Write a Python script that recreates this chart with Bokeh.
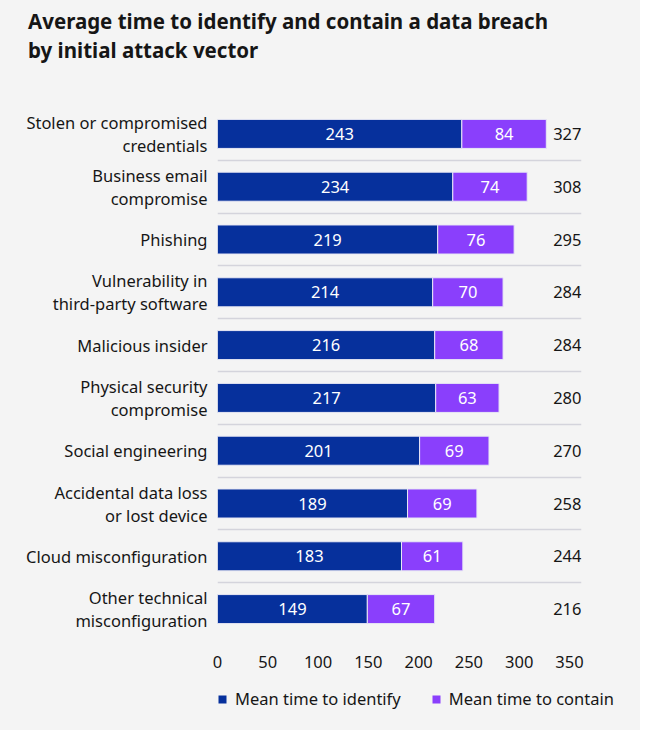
from bokeh.plotting import figure
from bokeh.layouts import column
from bokeh.models import Range1d, FixedTicker, Legend, LegendItem, ColumnDataSource, Div
from bokeh.core.properties import value
from bokeh.embed import file_html
from bokeh.resources import INLINE

categories = [
    "Stolen or compromised\ncredentials",
    "Business email\ncompromise",
    "Phishing",
    "Vulnerability in\nthird-party software",
    "Malicious insider",
    "Physical security\ncompromise",
    "Social engineering",
    "Accidental data loss\nor lost device",
    "Cloud misconfiguration",
    "Other technical\nmisconfiguration",
]
identify = [243, 234, 219, 214, 216, 217, 201, 189, 183, 149]
contain = [84, 74, 76, 70, 68, 63, 69, 69, 61, 67]
totals = [327, 308, 295, 284, 284, 280, 270, 258, 244, 216]
x_ticks = [0, 50, 100, 150, 200, 250, 300, 350]
series_names = ["Mean time to identify", "Mean time to contain"]
title_lines = ["Average time to identify and contain a data breach", "by initial attack vector"]

BLUE = "#06309c"
PURPLE = "#8a3ffc"
BG = "#f4f4f4"
INK = "#161616"
FONT = "Noto Sans"
FS = "16.5px"

n = len(categories)
XMAX = 362
idx = list(range(n))
src = ColumnDataSource(dict(
    y=idx,
    identify=identify,
    contain=contain,
    end=[a + b for a, b in zip(identify, contain)],
    mid_i=[a / 2 for a in identify],
    mid_c=[a + b / 2 for a, b in zip(identify, contain)],
    lab_i=[str(v) for v in identify],
    lab_c=[str(v) for v in contain],
    tot=[str(v) for v in totals],
    tot_x=[XMAX] * n,
))

# title block
title = Div(
    text=('<div style="font-family:\'Noto Sans\';font-weight:bold;font-size:20.5px;'
          'line-height:29px;color:%s;padding:7px 0 0 28px;margin:0;">%s</div>'
          % (INK, "<br>".join(title_lines))),
    width=640, height=107, margin=0,
    styles={"background-color": BG},
)

# main chart
p = figure(
    output_backend="svg", toolbar_location=None,
    frame_width=364, frame_height=528,
    min_border_left=217, min_border_right=59, min_border_top=0, min_border_bottom=45,
    x_range=Range1d(0, XMAX), y_range=Range1d(n - 0.5, -0.5),
    background_fill_color=BG, border_fill_color=BG, outline_line_color=None,
)
p.title.visible = False

p.hbar(y="y", left=0, right="identify", height=0.55, source=src,
       fill_color=BLUE, line_color="#e8e8f4", line_width=1)
p.hbar(y="y", left="identify", right="end", height=0.55, source=src,
       fill_color=PURPLE, line_color="#e8e8f4", line_width=1)

p.text(x="mid_i", y="y", text="lab_i", source=src, text_color="white",
       text_font=value(FONT), text_font_size=FS, text_align="center", text_baseline="middle")
p.text(x="mid_c", y="y", text="lab_c", source=src, text_color="white",
       text_font=value(FONT), text_font_size=FS, text_align="center", text_baseline="middle")
p.text(x="tot_x", y="y", text="tot", source=src, text_color=INK,
       text_font=value(FONT), text_font_size=FS, text_align="right", text_baseline="middle")

# separators between categories
p.xgrid.visible = False
p.ygrid.ticker = FixedTicker(ticks=[i - 0.5 for i in range(n + 1)])
p.ygrid.grid_line_color = "#d4d4dc"
p.ygrid.grid_line_width = 1.5

p.yaxis.ticker = FixedTicker(ticks=idx)
p.yaxis.major_label_overrides = {i: c for i, c in enumerate(categories)}
p.yaxis.axis_line_color = None
p.yaxis.major_tick_line_color = None
p.yaxis.minor_tick_line_color = None
p.yaxis.major_label_text_font = FONT
p.yaxis.major_label_text_font_size = FS
p.yaxis.major_label_text_color = INK
p.yaxis.major_label_text_line_height = 1.0
p.yaxis.major_label_standoff = 4

p.xaxis.ticker = FixedTicker(ticks=x_ticks)
p.xaxis.axis_line_color = None
p.xaxis.major_tick_line_color = None
p.xaxis.minor_tick_line_color = None
p.xaxis.major_label_text_font = FONT
p.xaxis.major_label_text_font_size = FS
p.xaxis.major_label_text_color = INK
p.xaxis.major_label_standoff = 14

# legend strip
lf = figure(output_backend="svg", toolbar_location=None,
            frame_width=640, frame_height=50,
            min_border_left=0, min_border_right=0, min_border_top=0, min_border_bottom=0,
            x_range=Range1d(0, 1), y_range=Range1d(0, 1),
            background_fill_color=BG, border_fill_color=BG, outline_line_color=None)
lf.axis.visible = False
lf.grid.visible = False
lf.title.visible = False
l1 = lf.hbar(y="y", left=0, right="identify", height=0.55, source=src,
             fill_color=BLUE, line_color=None, visible=False)
l2 = lf.hbar(y="y", left="identify", right="end", height=0.55, source=src,
             fill_color=PURPLE, line_color=None, visible=False)
legend = Legend(items=[LegendItem(label=series_names[0], renderers=[l1]),
                       LegendItem(label=series_names[1], renderers=[l2])],
                orientation="horizontal", location=(217, 20),
                glyph_width=10, glyph_height=10, label_standoff=8, spacing=30,
                padding=0, margin=0, border_line_color=None,
                background_fill_alpha=0, label_height=20,
                inactive_fill_alpha=0,
                label_text_font=FONT, label_text_font_size=FS, label_text_color=INK)
lf.add_layout(legend)

layout = column(title, p, lf, spacing=0, styles={"background-color": BG})
open("out.html", "w").write(file_html(layout, INLINE))
